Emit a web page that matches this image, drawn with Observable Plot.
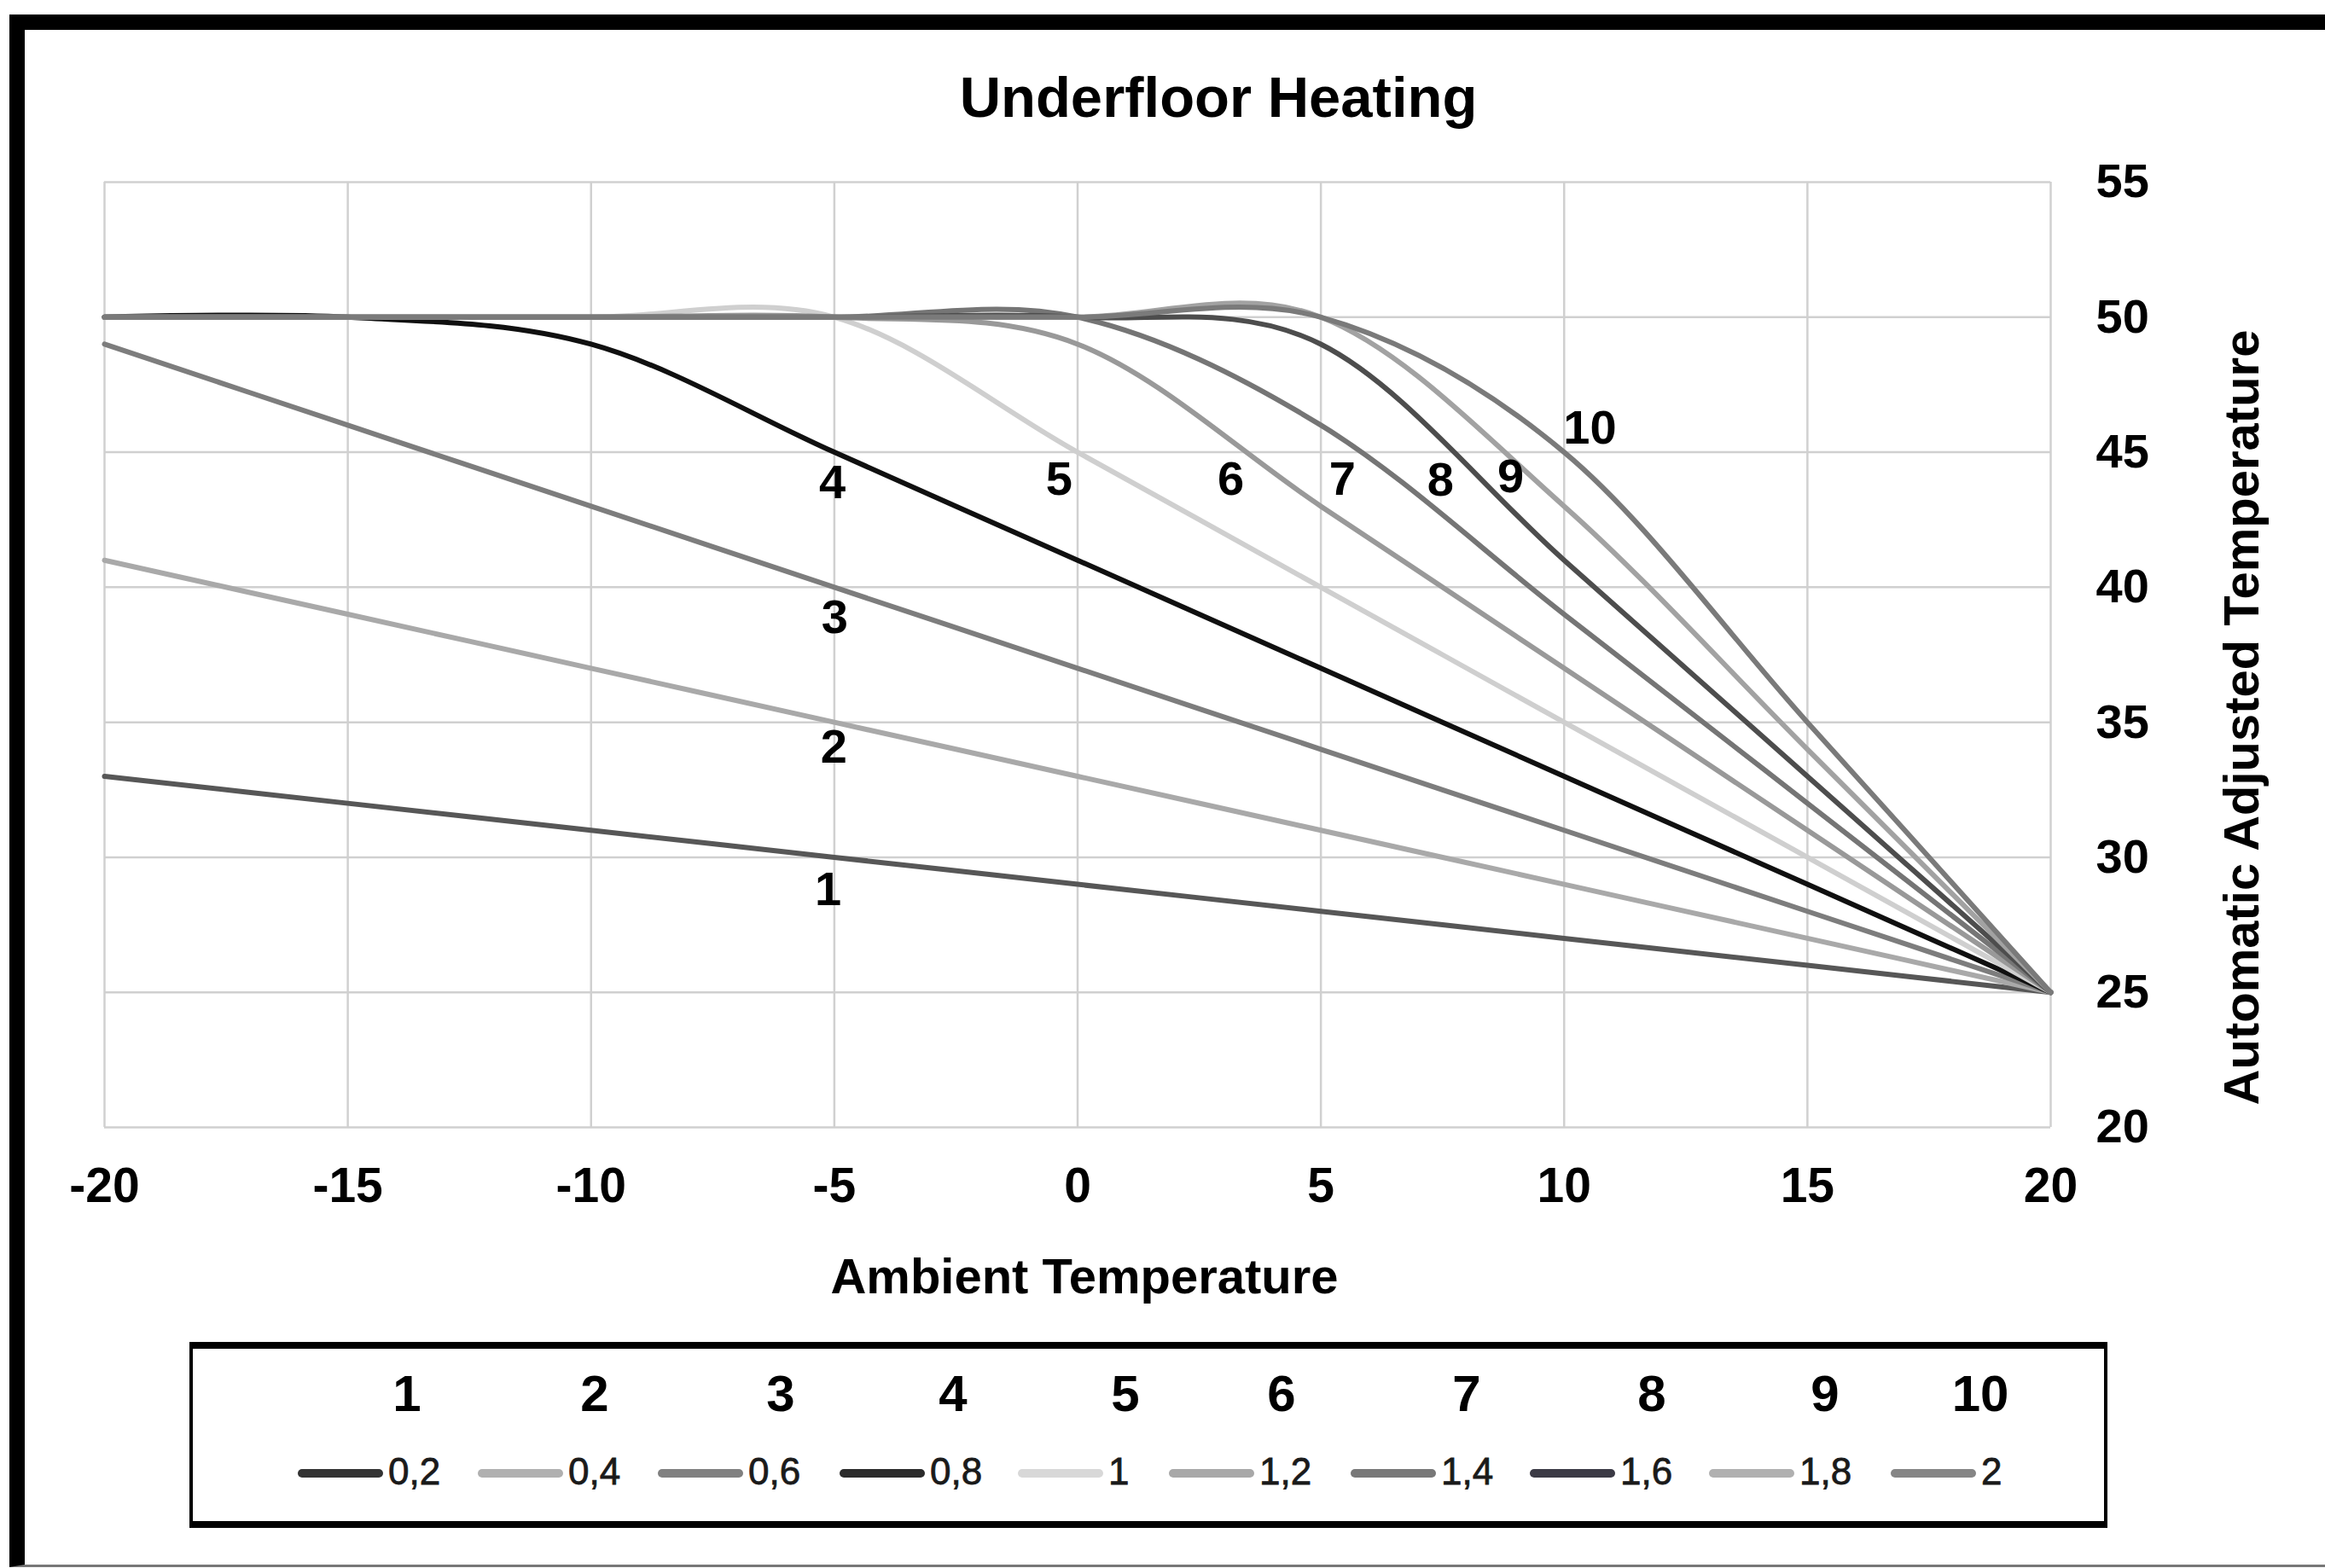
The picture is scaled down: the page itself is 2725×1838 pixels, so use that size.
<!DOCTYPE html>
<html>
<head>
<meta charset="utf-8">
<script src="https://cdn.jsdelivr.net/npm/d3@7"></script>
<script src="https://cdn.jsdelivr.net/npm/@observablehq/plot@0.6"></script>
<style>
  html, body { margin: 0; padding: 0; background: #fff; }
  #page { position: relative; width: 2725px; height: 1838px; overflow: hidden;
          font-family: "Liberation Sans", Arial, sans-serif; background: #fff; }
  #chart { position: absolute; left: 0; top: 0; }
  .abs { position: absolute; white-space: nowrap; line-height: 1; }
</style>
</head>
<body>
<div id="page"><div id="chart"></div></div>
<script>
// ---------- data ----------
const xValues = [-20, -15, -10, -5, 0, 5, 10, 15, 20];
const series1  = [33, 32, 31, 30, 29, 28, 27, 26, 25];
const series2  = [41, 39, 37, 35, 33, 31, 29, 27, 25];
const series3  = [49, 46, 43, 40, 37, 34, 31, 28, 25];
const series4  = [50, 50, 49, 45, 41, 37, 33, 29, 25];
const series5  = [50, 50, 50, 50, 45, 40, 35, 30, 25];
const series6  = [50, 50, 50, 50, 49, 43, 37, 31, 25];
const series7  = [50, 50, 50, 50, 50, 46, 39, 32, 25];
const series8  = [50, 50, 50, 50, 50, 49, 41, 33, 25];
const series9  = [50, 50, 50, 50, 50, 50, 43, 34, 25];
const series10 = [50, 50, 50, 50, 50, 50, 45, 35, 25];
const seriesNames = ["1", "2", "3", "4", "5", "6", "7", "8", "9", "10"];
const seriesValues = [series1, series2, series3, series4, series5, series6, series7, series8, series9, series10];
const factorLabels = ["0,2", "0,4", "0,6", "0,8", "1", "1,2", "1,4", "1,6", "1,8", "2"];

const xTicks = [-20, -15, -10, -5, 0, 5, 10, 15, 20];
const yTicks = [20, 25, 30, 35, 40, 45, 50, 55];

// in-chart curve labels
const labelText = ["1", "2", "3", "4", "5", "6", "7", "8", "9", "10"];
const labelX = [-5.13, -5.01, -4.99, -5.04, -0.38, 3.15, 5.44, 7.46, 8.90, 10.53];
const labelY = [28.78, 34.06, 38.86, 43.85, 44.0, 44.0, 44.0, 43.95, 44.07, 45.9];

// ---------- styles ----------
const lineColors   = ["#575757", "#a9a9a9", "#7d7d7d", "#101010", "#cfcfcf", "#999999", "#757575", "#4d4d4d", "#a2a2a2", "#7a7a7a"];
const swatchColors = ["#333333", "#b0b0b0", "#808080", "#2b2b2b", "#d8d8d8", "#a8a8a8", "#787878", "#3b3a45", "#b0b0b0", "#858585"];
const FONT = '"Liberation Sans", Arial, sans-serif';

// ---------- table ----------
const rows = [];
seriesValues.forEach((vals, i) => {
  vals.forEach((v, j) => rows.push({series: seriesNames[i], x: xValues[j], y: v}));
});
const labels = labelText.map((t, i) => ({text: t, x: labelX[i], y: labelY[i]}));

const chart = Plot.plot({
  width: 2725,
  height: 1838,
  marginLeft: 122,
  marginRight: 322,
  marginTop: 213,
  marginBottom: 517,
  style: {fontFamily: FONT, fontSize: "57px", fontWeight: "bold", color: "#000", background: "transparent", overflow: "visible"},
  x: {domain: [-20, 20]},
  y: {domain: [20, 55]},
  color: {domain: seriesNames, range: lineColors},
  marks: [
    Plot.gridX(xTicks, {stroke: "#d0d0d0", strokeOpacity: 1, strokeWidth: 2.5}),
    Plot.gridY(yTicks, {stroke: "#d0d0d0", strokeOpacity: 1, strokeWidth: 2.5}),
    Plot.axisX(xTicks, {tickSize: 0, tickPadding: 47, tickFormat: d => String(d), label: null, fontSize: 57, fontWeight: "bold", fill: "#000"}),
    Plot.axisY(yTicks, {anchor: "right", tickSize: 0, tickPadding: 53, tickFormat: d => String(d), label: null, fontSize: 56, fontWeight: "bold", fill: "#000"}),
    Plot.line(rows, {x: "x", y: "y", z: "series", stroke: "series", strokeWidth: 6, curve: "cardinal", tension: 0}),
    Plot.text(labels, {x: "x", y: "y", text: "text", fontSize: 56, fontWeight: "bold", fill: "#000"})
  ]
});
document.getElementById("chart").appendChild(chart);

// ---------- overlays (frame, titles, legend) ----------
const page = document.getElementById("page");
function add(html) { page.insertAdjacentHTML("beforeend", html); }

// outer frame
add('<div style="position:absolute;left:11px;top:17px;width:2730px;height:1820px;box-sizing:border-box;border-top:18px solid #000;border-left:18px solid #000;border-bottom:3px solid #777;"></div>');

// title
add('<div class="abs" style="left:1428px;top:80px;transform:translateX(-50%);font-size:67px;font-weight:bold;color:#000;">Underfloor Heating</div>');
// x axis label
add('<div class="abs" style="left:1271px;top:1467px;transform:translateX(-50%);font-size:58px;font-weight:bold;color:#000;">Ambient Temperature</div>');
// y axis label (rotated)
add('<div class="abs" style="left:2627px;top:841px;height:58px;transform:translate(-50%,-50%) rotate(-90deg);font-size:58px;font-weight:bold;color:#000;">Automatic Adjusted Temperature</div>');

// legend box
add('<div style="position:absolute;left:222px;top:1573px;width:2248px;height:218px;box-sizing:border-box;border-top:8px solid #000;border-bottom:8px solid #000;border-left:4px solid #000;border-right:4px solid #000;"></div>');
const legendNumberX = [477, 697, 915, 1117, 1319, 1502, 1719, 1936, 2139, 2321];
const legendSwatchX = [349, 560, 771, 984, 1193, 1370, 1583, 1793, 2003, 2216];
seriesNames.forEach((name, i) => {
  add(`<div class="abs" style="left:${legendNumberX[i]}px;top:1604px;transform:translateX(-50%);font-size:60px;font-weight:bold;color:#000;">${name}</div>`);
  add(`<div style="position:absolute;left:${legendSwatchX[i]}px;top:1722px;width:100px;height:10px;border-radius:5px;background:${swatchColors[i]};"></div>`);
  add(`<div class="abs" style="left:${legendSwatchX[i] + 106}px;top:1703px;font-size:44px;color:#1a1a1a;-webkit-text-stroke:0.8px #1a1a1a;">${factorLabels[i]}</div>`);
});
</script>
</body>
</html>
